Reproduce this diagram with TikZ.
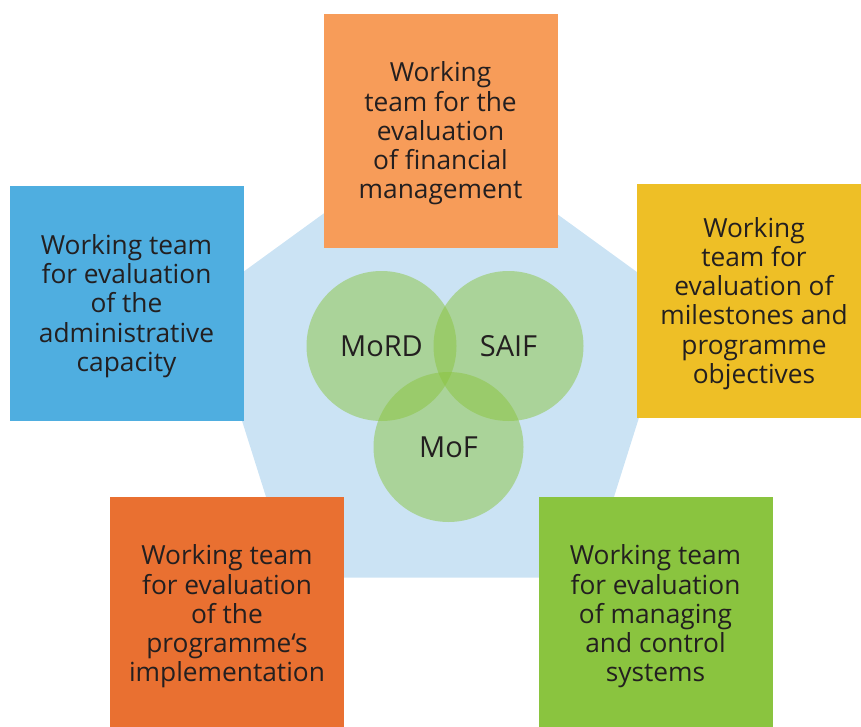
\documentclass[tikz,border=0pt]{standalone}
\usepackage{fontspec}
\setmainfont{Open Sans}
\definecolor{hexblue}{HTML}{CBE3F4}
\definecolor{boxblue}{HTML}{4FAEE0}
\definecolor{boxpeach}{HTML}{F79C59}
\definecolor{boxyellow}{HTML}{EEBF26}
\definecolor{boxorange}{HTML}{E97031}
\definecolor{boxgreen}{HTML}{8AC43F}
\definecolor{venngreen}{HTML}{8BC53F}
\definecolor{inktext}{HTML}{231F20}
\tikzset{
  teambox/.style={rectangle, minimum width=234pt, minimum height=234pt,
    inner sep=0pt},
  teamtext/.style={align=center, text=inktext, inner sep=0pt,
    font=\fontsize{26.3}{29.3}\selectfont},
  partner/.style={circle, minimum size=150pt, inner sep=0pt,
    fill=venngreen, fill opacity=0.5},
  partnertext/.style={text=inktext, font=\fontsize{29}{32}\selectfont}
}
\begin{document}
\begin{tikzpicture}[x=1pt,y=-1pt]
  \useasboundingbox (0,0) rectangle (861,727);
  \clip (0,0) rectangle (861,727);
  % backing pentagon
  \fill[hexblue] (440,129) -- (676,300.4) -- (588.5,577.6)
    -- (291.5,577.6) -- (204,300.4) -- cycle;
  % three overlapping partners
  \node[partner] (mord) at (381.5,346) {};
  \node[partner] (saif) at (508.5,346) {};
  \node[partner] (mof)  at (448.5,447) {};
  \node[partnertext] (mordl) at (mord.center) {MoRD};
  \node[partnertext] (saifl) at (saif.center) {SAIF};
  \node[partnertext] (mofl)  at (mof.center)  {MoF};
  % working teams
  \node[teambox, fill=boxpeach]  (fin) at (440.5,131) {};
  \node[teambox, fill=boxblue]   (adm) at (126.5,303.5) {};
  \node[teambox, fill=boxyellow] (mil) at (754,301) {};
  \node[teambox, fill=boxorange] (imp) at (227,614) {};
  \node[teambox, fill=boxgreen]  (ctl) at (655.5,614) {};
  \node[teamtext] (fint) at ([yshift=-2.5pt]fin.center)
    {Working\\team for the\\evaluation\\of financial\\management};
  \node[teamtext] (admt) at ([yshift=-2.5pt]adm.center)
    {Working team\\for evaluation\\of the\\administrative\\capacity};
  \node[teamtext] (milt) at ([yshift=-2.5pt]mil.center)
    {Working\\team for\\evaluation of\\milestones and\\programme\\objectives};
  \node[teamtext] (impt) at ([yshift=-2.5pt]imp.center)
    {Working team\\for evaluation\\of the\\programme‘s\\implementation};
  \node[teamtext] (ctlt) at ([yshift=-2.5pt]ctl.center)
    {Working team\\for evaluation\\of managing\\and control\\systems};
\end{tikzpicture}
\end{document}
